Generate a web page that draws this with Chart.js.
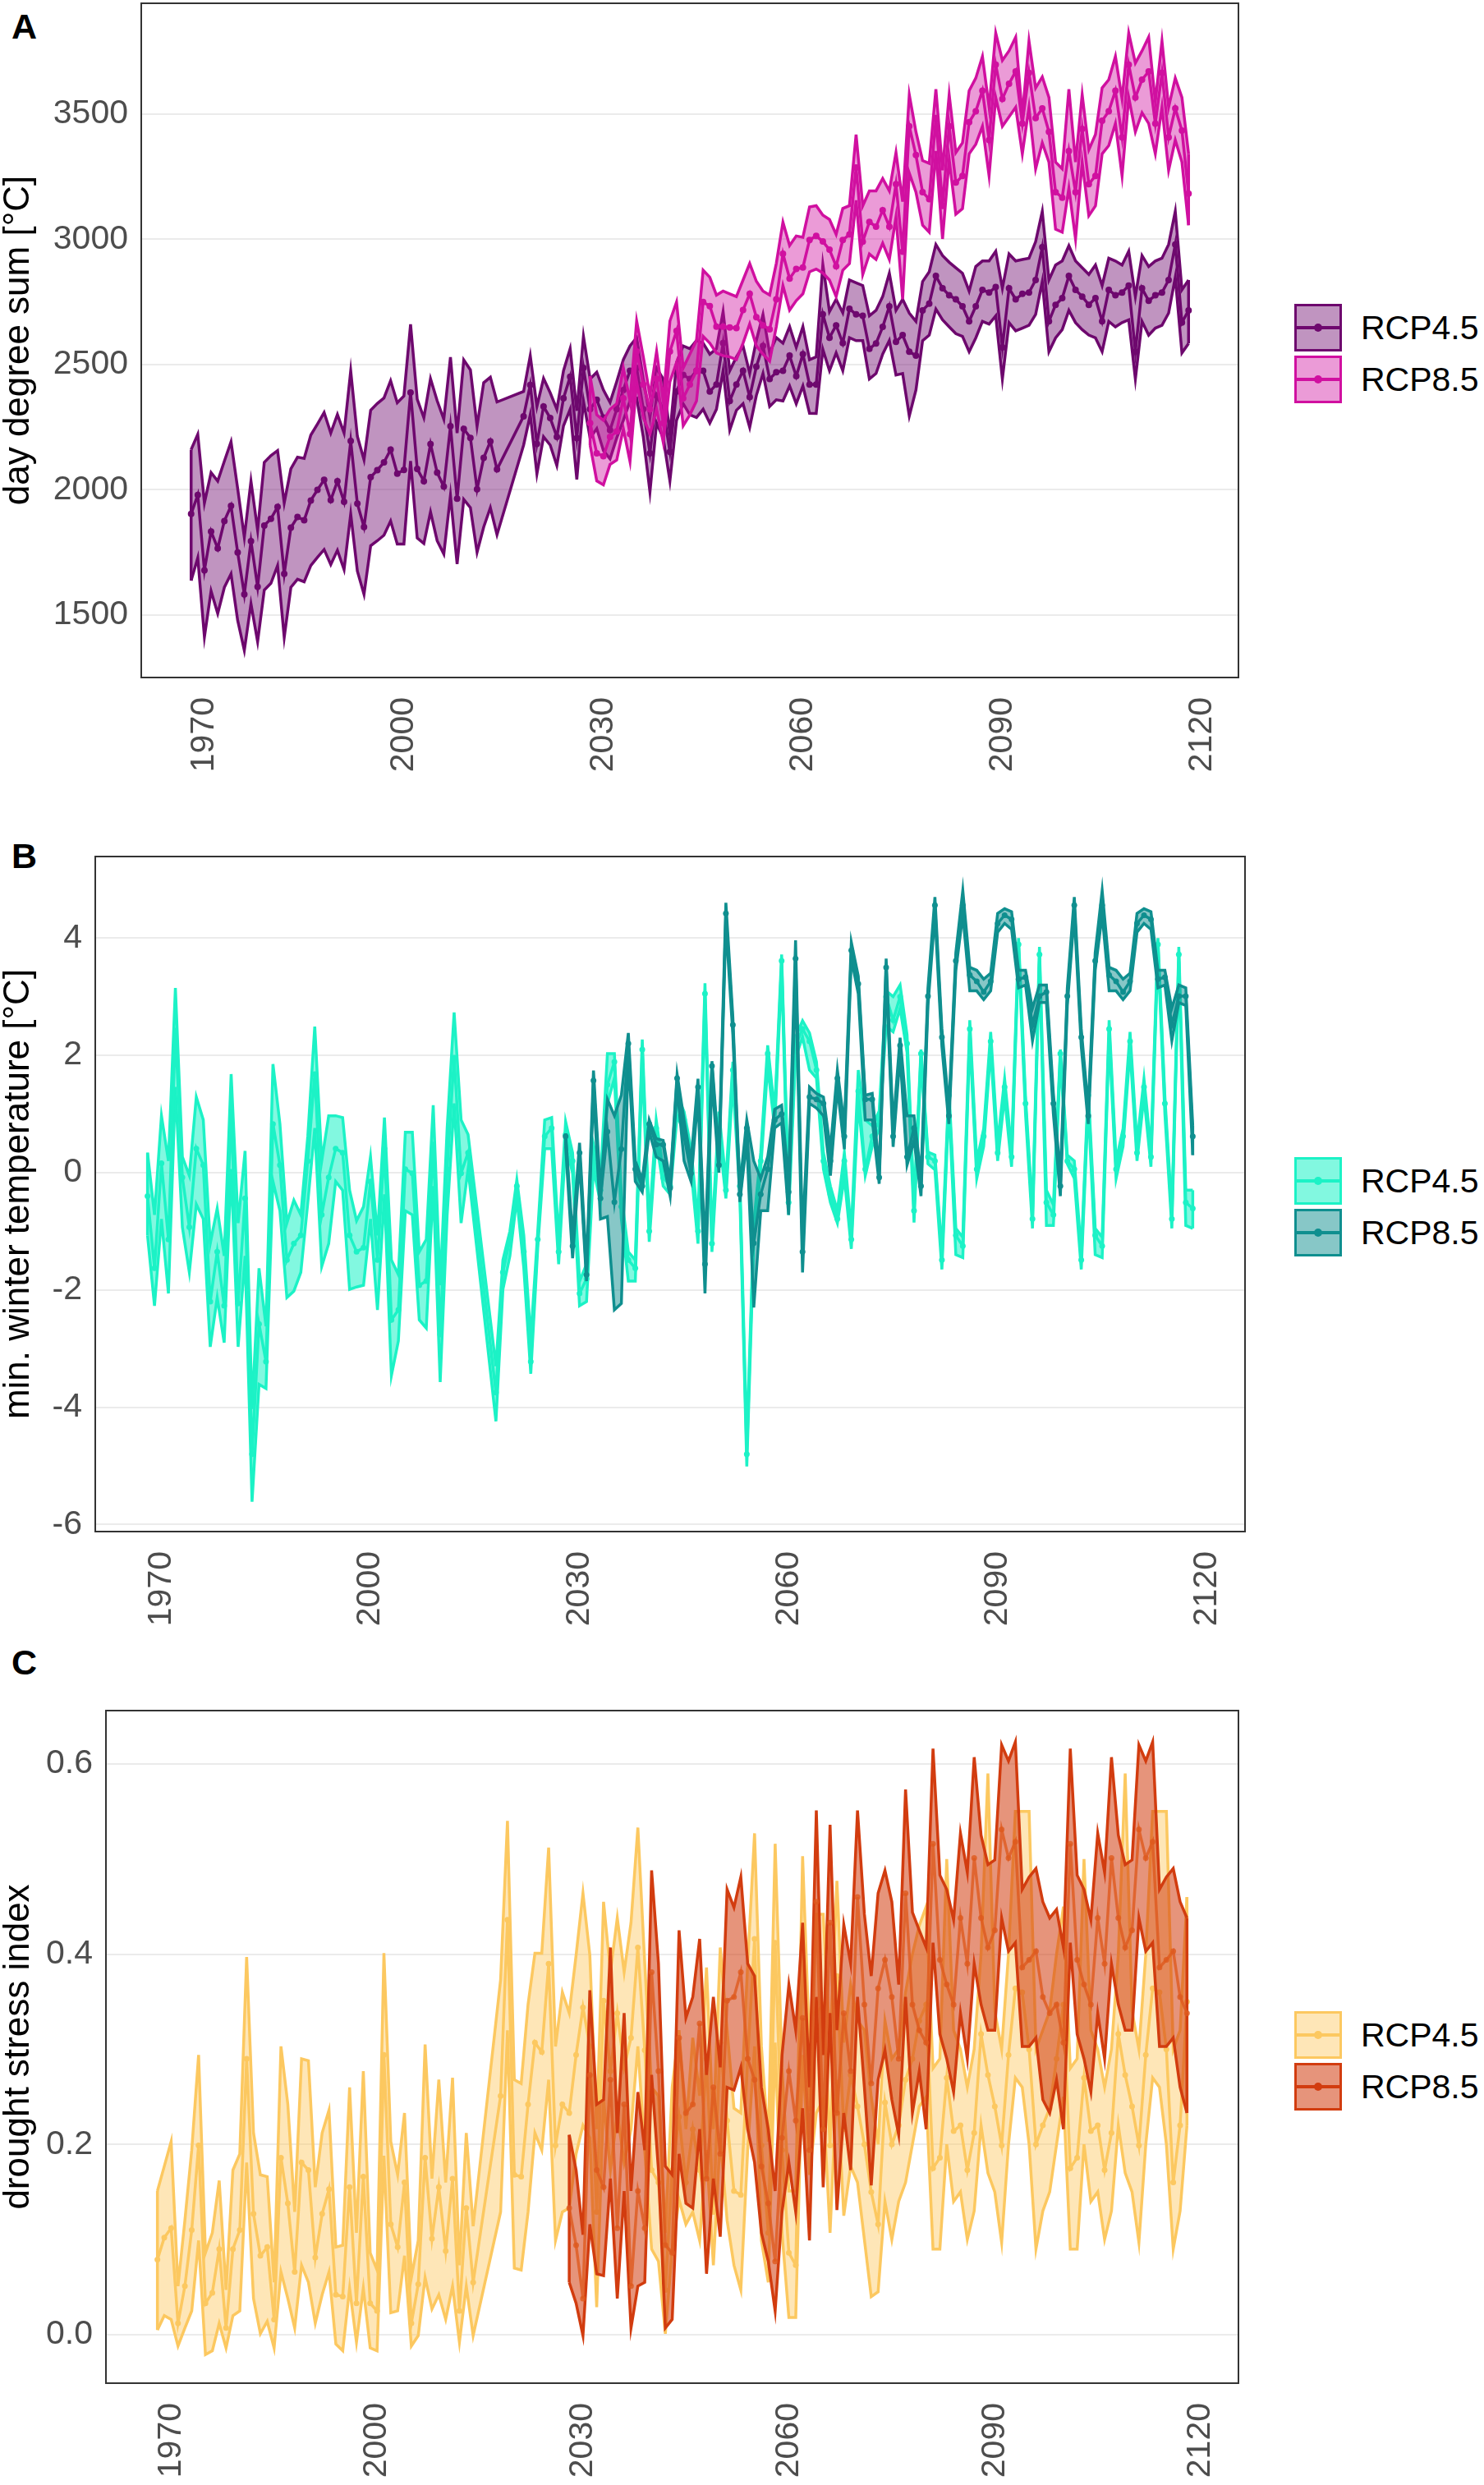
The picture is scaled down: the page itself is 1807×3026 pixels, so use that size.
<!DOCTYPE html>
<html>
<head>
<meta charset="utf-8">
<script src="https://cdn.jsdelivr.net/npm/chart.js@4.4.1/dist/chart.umd.min.js"></script>
<style>
body{margin:0;background:#fff;width:1807px;height:3026px;position:relative;overflow:hidden;font-family:"Liberation Sans",Arial,sans-serif;color:#000}
canvas{position:absolute;left:0}
.tag{position:absolute;left:14px;font-weight:bold;font-size:43px;line-height:1}
.legend{position:absolute;left:1576px}
.item{display:flex;align-items:center;height:58px;margin-bottom:5px;font-size:41px}
.key{position:relative;width:58px;height:58px;box-sizing:border-box;border:3px solid var(--c);background:var(--f);margin-right:23px}
.key i{position:absolute;left:0;right:0;top:50%;height:4px;margin-top:-2px;background:var(--c)}
.key b{position:absolute;left:50%;top:50%;width:10px;height:10px;margin:-5px 0 0 -5px;border-radius:50%;background:var(--c)}
</style>
</head>
<body>
<div class="tag" style="top:11px">A</div>
<div class="tag" style="top:1021px">B</div>
<div class="tag" style="top:2003px">C</div>

<canvas id="chartA" width="1560" height="990" style="top:0px"></canvas>
<canvas id="chartB" width="1560" height="990" style="top:1000px"></canvas>
<canvas id="chartC" width="1560" height="996" style="top:2030px"></canvas>

<div class="legend" style="top:370px">
 <div class="item"><span class="key" style="--c:rgb(110,8,110);--f:rgba(110,8,110,0.43)"><i></i><b></b></span>RCP4.5</div>
 <div class="item"><span class="key" style="--c:rgb(208,16,160);--f:rgba(208,16,160,0.42)"><i></i><b></b></span>RCP8.5</div>
</div>
<div class="legend" style="top:1409px">
 <div class="item"><span class="key" style="--c:rgb(28,242,198);--f:rgba(28,242,198,0.55)"><i></i><b></b></span>RCP4.5</div>
 <div class="item"><span class="key" style="--c:rgb(15,143,143);--f:rgba(15,143,143,0.5)"><i></i><b></b></span>RCP8.5</div>
</div>
<div class="legend" style="top:2449px">
 <div class="item"><span class="key" style="--c:rgb(252,200,96);--f:rgba(252,200,96,0.45)"><i></i><b></b></span>RCP4.5</div>
 <div class="item"><span class="key" style="--c:rgb(210,60,15);--f:rgba(210,60,15,0.55)"><i></i><b></b></span>RCP8.5</div>
</div>

<script>
// years: historical run 1968-2014, scenarios from 2018 (RCP4.5) and 2028 (RCP8.5)
const years45 = [];
for (let y = 1968; y <= 2014; y++) years45.push(y);
for (let y = 2018; y <= 2118; y++) years45.push(y);
const years85 = [];
for (let y = 2028; y <= 2118; y++) years85.push(y);

const xTicks = [1970, 2000, 2030, 2060, 2090, 2120];
const yTicksA = [1500, 2000, 2500, 3000, 3500];
const yTicksB = [-6, -4, -2, 0, 2, 4];
const yTicksC = [0, 0.2, 0.4, 0.6];

// A: day degree sum
const a45Mean = [
1903,1979,1678,1833,1766,1875,1935,1749,1582,1794,
1612,1857,1884,1931,1664,1848,1891,1878,1957,1999,
2039,1958,2034,1952,2194,1944,1851,2050,2078,2109,
2160,2064,2079,2388,2083,2034,2182,2068,2012,2253,
1964,2243,2207,2002,2127,2193,2081,
2293,2418,2183,2332,2286,2211,2365,2451,2206,2486,
2321,2359,2288,2238,2321,2398,2475,2486,2321,2145,
2376,2321,2151,2392,2458,2442,2475,2475,2392,2420,
2585,2354,2420,2475,2370,2491,2574,2442,2469,2475,
2535,2453,2541,2420,2420,2700,2607,2656,2585,2722,
2700,
2694,2562,2584,2650,2732,2590,2617,2551,2535,2716,
2743,2853,2804,2776,2760,2732,2672,2732,2798,2787,
2809,2568,2804,2760,2782,2787,2837,2968,2672,2738,
2765,2853,2798,2771,2738,2765,2672,2798,2776,2787,
2815,2551,2804,2754,2776,2787,2837,2979,2667,2716];
const a45Hi = [
2160,2221,1947,2068,2034,2114,2191,2004,1810,2034,
1838,2109,2136,2156,1947,2083,2130,2125,2218,2262,
2308,2226,2300,2226,2474,2213,2119,2317,2344,2366,
2435,2347,2374,2660,2361,2287,2443,2355,2281,2529,
2226,2518,2478,2253,2427,2449,2350,
2392,2535,2332,2444,2387,2321,2475,2563,2315,2612,
2442,2469,2398,2348,2431,2519,2574,2607,2442,2288,
2486,2442,2222,2508,2574,2563,2596,2585,2541,2563,
2711,2475,2530,2574,2464,2596,2700,2546,2607,2585,
2651,2568,2651,2519,2530,2900,2711,2760,2706,2837,
2826,
2815,2694,2716,2771,2864,2716,2760,2705,2672,2831,
2870,2979,2935,2908,2886,2864,2793,2891,2913,2913,
2952,2804,2941,2913,2919,2924,2990,3111,2837,2897,
2913,2974,2913,2886,2859,2897,2815,2924,2913,2897,
2952,2771,2935,2891,2913,2924,2979,3111,2798,2837];
const a45Lo = [
1637,1728,1412,1595,1505,1610,1664,1478,1358,1544,
1393,1599,1626,1697,1410,1610,1642,1632,1697,1730,
1761,1701,1758,1681,1903,1675,1582,1776,1796,1818,
1875,1783,1783,2114,1807,1785,1911,1796,1743,1977,
1703,1961,1928,1750,1851,1928,1820,
2178,2299,2063,2211,2178,2096,2255,2321,2041,2354,
2206,2244,2156,2123,2206,2277,2354,2365,2211,1991,
2266,2206,2035,2277,2343,2299,2288,2321,2266,2321,
2475,2238,2317,2343,2249,2376,2464,2332,2359,2354,
2414,2343,2414,2305,2304,2560,2475,2546,2475,2607,
2595,
2595,2442,2464,2541,2595,2458,2464,2294,2398,2595,
2617,2721,2678,2650,2623,2612,2551,2606,2672,2661,
2694,2442,2667,2634,2645,2656,2700,2831,2551,2606,
2639,2716,2667,2639,2617,2606,2551,2672,2650,2667,
2678,2442,2672,2617,2645,2656,2705,2848,2546,2584];
const a85Mean = [
2266,2145,2134,2211,2233,2365,2222,2552,2420,2321,
2442,2266,2552,2634,2365,2420,2475,2749,2733,2651,
2651,2648,2645,2717,2782,2689,2656,2640,2760,2942,
2843,2881,2887,2997,3013,2991,2958,2892,2997,3019,
3286,2990,3069,3050,3116,3050,3220,2950,3451,3336,
3188,3160,3484,3133,3451,3226,3253,3467,3511,3593,
3396,3697,3560,3621,3670,3462,3664,3484,3522,3429,
3188,3166,3352,3188,3440,3220,3253,3473,3511,3593,
3407,3697,3566,3637,3670,3462,3664,3407,3522,3434,
3182];
const a85Hi = [
2453,2299,2277,2321,2343,2486,2354,2673,2530,2376,
2552,2354,2673,2749,2486,2541,2596,2876,2848,2777,
2793,2782,2771,2837,2903,2832,2793,2777,2903,3068,
2975,3013,3008,3129,3134,3096,3079,3019,3123,3134,
3418,3133,3193,3193,3242,3193,3346,3150,3577,3429,
3314,3303,3599,3275,3577,3346,3385,3593,3643,3730,
3527,3823,3714,3752,3807,3495,3791,3604,3648,3566,
3308,3281,3599,3308,3577,3357,3418,3604,3637,3730,
3560,3823,3703,3752,3807,3549,3791,3527,3643,3566,
3341];
const a85Lo = [
2178,2035,2019,2101,2118,2244,2112,2431,2288,2222,
2321,2189,2431,2508,2255,2299,2354,2612,2585,2546,
2535,2530,2519,2585,2662,2574,2541,2513,2651,2815,
2717,2755,2782,2870,2881,2865,2837,2771,2876,2903,
3155,2859,2941,2919,2984,2919,3089,2760,3264,3188,
3056,3028,3352,3001,3319,3100,3122,3341,3379,3451,
3253,3566,3451,3489,3527,3341,3527,3281,3385,3308,
3040,3028,3204,3001,3308,3094,3133,3341,3374,3462,
3253,3566,3429,3505,3462,3341,3527,3275,3396,3308,
3056];

// B: min. winter temperature
const b45Mean = [
-0.40,-1.63,0.16,-1.14,2.42,-0.08,-0.93,0.41,0.13,-2.20,
-1.35,-2.27,1.04,-2.23,-0.44,-4.80,-2.58,-3.22,0.83,0.13,
-1.49,-1.21,-1.07,0.20,1.68,-0.72,-0.08,0.41,0.34,-1.07,
-1.35,-1.28,-0.15,-1.49,0.41,-2.51,-2.34,0.06,-0.01,-1.92,
-1.85,0.48,-2.76,0.06,1.96,-0.01,0.34,
-3.75,-1.70,-1.14,-0.23,-1.35,-3.22,-1.14,0.62,0.76,-1.35,
0.65,0.20,-2.06,-1.81,0.27,-0.30,1.50,1.89,-0.58,-1.49,
-1.63,2.10,-1.00,0.76,-0.08,-0.23,1.18,0.90,0.27,-1.00,
3.05,-1.21,0.90,-0.30,1.75,-0.23,-4.80,-1.00,0.20,2.03,
0.90,3.61,-0.51,2.17,2.45,2.24,1.75,0.20,-0.37,-0.79,
0.20,
-1.14,1.39,0.06,0.62,0.90,3.00,2.60,3.00,2.20,-0.65,
2.03,0.27,0.20,-1.49,1.32,-1.07,-1.25,2.45,0.06,0.62,
2.24,0.34,1.46,0.27,3.89,1.18,-0.79,3.72,-0.51,-0.72,
2.03,0.20,0.06,-1.49,1.32,-1.07,-1.25,2.45,0.06,0.62,
2.24,0.34,1.46,0.27,3.89,1.18,-0.79,3.72,-0.51,-0.61];
const b45Hi = [
0.34,-0.72,0.97,0.20,3.15,0.27,-0.05,1.29,0.90,-1.21,
-0.61,-1.42,1.68,-0.86,0.37,-4.03,-1.63,-2.62,1.85,0.83,
-0.86,-0.47,-0.72,0.62,2.49,0.20,0.97,0.97,0.94,-0.30,
-0.82,-0.58,0.27,-1.07,0.94,-1.49,-1.74,0.69,0.69,-1.35,
-1.14,1.15,-1.92,0.76,2.73,0.90,0.65,
-3.30,-1.49,-1.00,-0.12,-1.07,-2.83,-1.00,0.90,0.94,-1.14,
0.87,0.34,-1.85,-1.56,0.48,-0.08,2.03,2.03,-0.37,-1.35,
-1.49,2.27,-0.86,0.90,0.06,-0.08,1.32,1.04,0.41,-0.86,
3.23,-1.07,1.04,-0.15,1.89,-0.08,-4.59,-0.86,0.34,2.17,
1.04,3.72,-0.37,2.31,2.59,2.38,1.89,0.34,-0.23,-0.65,
0.34,
-1.00,1.75,0.90,0.80,1.05,3.10,3.00,3.20,2.35,-0.50,
2.10,0.35,0.30,-1.35,1.45,-0.95,-1.10,2.60,0.20,0.75,
2.40,0.50,1.60,0.40,4.00,1.30,-0.65,3.85,-0.30,-0.55,
2.10,0.30,0.20,-1.35,1.45,-0.95,-1.10,2.60,0.20,0.75,
2.40,0.50,1.60,0.40,4.00,1.30,-0.65,3.85,-0.30,-0.30];
const b45Lo = [
-1.07,-2.27,-0.79,-2.06,1.46,-0.93,-1.70,-0.54,-0.79,-2.97,
-2.13,-2.90,0.06,-2.97,-1.42,-5.61,-3.61,-3.68,-0.15,-0.65,
-2.13,-2.02,-1.70,-0.51,0.76,-1.60,-1.21,-0.15,-0.30,-1.99,
-1.95,-1.92,-0.79,-2.34,-0.37,-3.46,-2.87,-0.65,-0.72,-2.51,
-2.65,-0.23,-3.57,-0.72,1.18,-0.86,0.06,
-4.24,-1.99,-1.42,-0.44,-1.63,-3.43,-1.28,0.41,0.41,-1.56,
0.48,-0.01,-2.27,-2.20,0.06,-0.51,1.18,1.61,-0.79,-1.85,
-1.85,1.89,-1.18,0.55,-0.23,-0.37,0.97,0.69,0.06,-1.21,
2.87,-1.35,0.69,-0.44,1.54,-0.37,-5.01,-1.21,0.06,1.82,
0.76,3.44,-0.72,1.96,2.31,1.75,1.61,0.06,-0.51,-0.86,
-0.08,
-1.30,1.20,-0.05,0.45,0.75,2.50,2.40,2.80,2.05,-0.85,
1.90,0.15,0.05,-1.65,1.15,-1.40,-1.45,2.30,-0.10,0.45,
2.10,0.20,1.30,0.10,3.75,1.00,-0.95,3.60,-0.90,-0.90,
1.90,0.15,-0.10,-1.65,1.15,-1.40,-1.45,2.30,-0.10,0.45,
2.10,0.20,1.30,0.10,3.75,1.00,-0.95,3.60,-0.90,-0.95];
const b85Mean = [
0.62,-1.25,0.34,-1.74,1.57,-0.44,0.70,-0.50,0.40,2.20,
0.06,-0.23,0.83,0.48,0.48,-0.26,1.61,0.62,-0.01,1.46,
-1.56,1.82,0.13,4.42,2.52,-0.37,0.76,-1.20,-0.37,0.06,
0.90,1.00,-0.33,3.65,-1.35,1.29,1.25,1.18,0.20,1.61,
0.62,3.79,3.22,1.25,1.25,-0.08,3.50,0.62,2.17,0.27,
0.76,-0.23,3.01,4.56,2.31,0.97,3.61,4.56,3.37,3.26,
3.08,3.26,4.25,4.39,4.32,3.30,3.33,2.52,3.01,3.08,
1.18,-0.23,3.01,4.56,2.31,0.97,3.61,4.56,3.37,3.26,
3.08,3.26,4.25,4.39,4.32,3.30,3.33,2.52,3.01,3.01,
0.62];
const b85Hi = [
0.67,-1.10,0.51,-1.60,1.74,-0.30,1.25,0.97,1.32,2.38,
0.20,-0.12,0.90,0.58,0.55,-0.15,1.68,0.90,0.20,1.60,
-1.30,1.90,0.30,4.60,2.65,-0.25,0.90,0.20,-0.10,0.27,
1.08,1.15,-0.15,3.96,-1.10,1.46,1.35,1.29,0.40,1.75,
0.80,3.93,3.35,1.32,1.35,0.05,3.65,0.80,2.30,0.97,
0.97,-0.05,3.15,4.70,2.45,1.10,3.75,4.81,3.50,3.45,
3.30,3.40,4.42,4.50,4.45,3.45,3.45,2.80,3.20,3.20,
1.35,-0.05,3.15,4.70,2.45,1.10,3.75,4.81,3.50,3.45,
3.30,3.40,4.42,4.50,4.45,3.45,3.45,2.80,3.20,3.15,
0.80];
const b85Lo = [
0.45,-1.46,0.20,-1.85,1.40,-0.79,-0.75,-2.34,-2.23,2.00,
-0.15,-0.33,0.70,0.27,0.20,-0.40,1.45,0.20,-0.15,1.30,
-2.06,1.60,0.00,4.25,2.35,-0.50,0.55,-2.30,-0.65,-0.65,
0.76,0.85,-0.72,3.40,-1.70,1.18,1.10,0.97,-0.05,1.45,
0.40,3.65,3.05,0.90,0.90,-0.19,3.35,0.44,2.00,0.13,
0.55,-0.40,2.85,4.40,2.15,0.83,3.45,4.40,3.10,3.10,
2.95,3.10,4.10,4.25,4.15,3.15,3.20,2.25,2.90,2.90,
1.00,-0.40,2.85,4.40,2.15,0.83,3.45,4.40,3.10,3.10,
2.95,3.10,4.10,4.25,4.15,3.15,3.20,2.25,2.90,2.85,
0.30];

// C: drought stress index
const c45Mean = [
0.079,0.102,0.112,0.012,0.051,0.110,0.199,0.033,0.044,0.090,
0.007,0.090,0.110,0.290,0.127,0.083,0.092,0.016,0.186,0.138,
0.066,0.181,0.173,0.081,0.127,0.153,0.042,0.040,0.155,0.033,
0.166,0.033,0.025,0.294,0.116,0.092,0.160,0.012,0.053,0.186,
0.101,0.155,0.088,0.164,0.025,0.133,0.055,
0.251,0.436,0.168,0.166,0.242,0.307,0.297,0.390,0.199,0.242,
0.233,0.294,0.344,0.303,0.129,0.351,0.277,0.338,0.281,0.312,
0.407,0.299,0.173,0.160,0.047,0.173,0.229,0.160,0.216,0.173,
0.290,0.129,0.307,0.225,0.151,0.147,0.290,0.416,0.199,0.107,
0.412,0.194,0.086,0.073,0.399,0.238,0.338,0.347,0.199,0.377,
0.216,0.273,
0.240,0.200,0.150,0.116,0.244,0.200,0.220,0.268,0.290,0.330,
0.347,0.175,0.186,0.270,0.214,0.220,0.173,0.212,0.316,0.273,
0.240,0.199,0.294,0.364,0.360,0.300,0.200,0.220,0.238,0.290,
0.347,0.175,0.186,0.270,0.214,0.220,0.173,0.212,0.316,0.273,
0.240,0.199,0.294,0.364,0.360,0.300,0.160,0.220,0.350];
const c45Hi = [
0.151,0.177,0.203,0.051,0.120,0.194,0.294,0.086,0.107,0.162,
0.047,0.173,0.190,0.397,0.212,0.168,0.166,0.055,0.303,0.242,
0.129,0.290,0.288,0.155,0.212,0.236,0.092,0.094,0.260,0.107,
0.277,0.086,0.068,0.401,0.203,0.168,0.233,0.060,0.099,0.305,
0.164,0.268,0.160,0.270,0.073,0.212,0.114,
0.373,0.540,0.268,0.264,0.347,0.401,0.401,0.512,0.303,0.360,
0.338,0.399,0.464,0.399,0.216,0.455,0.381,0.438,0.381,0.433,
0.533,0.390,0.260,0.251,0.107,0.260,0.320,0.216,0.312,0.251,
0.386,0.216,0.407,0.320,0.238,0.233,0.390,0.527,0.303,0.203,
0.516,0.281,0.151,0.151,0.503,0.303,0.442,0.442,0.303,0.477,
0.307,0.368,
0.330,0.320,0.250,0.200,0.330,0.290,0.300,0.360,0.400,0.430,
0.450,0.280,0.290,0.500,0.320,0.300,0.260,0.300,0.400,0.590,
0.340,0.300,0.400,0.550,0.550,0.550,0.300,0.320,0.340,0.400,
0.450,0.280,0.290,0.500,0.320,0.300,0.260,0.300,0.400,0.590,
0.340,0.300,0.400,0.550,0.550,0.550,0.300,0.320,0.460];
const c45Lo = [
0.005,0.020,0.016,-0.012,0.007,0.025,0.099,-0.021,-0.017,0.012,
-0.014,0.020,0.025,0.181,0.038,0.001,0.014,-0.014,0.066,0.038,
0.007,0.073,0.055,0.012,0.042,0.066,-0.010,-0.017,0.049,-0.008,
0.049,-0.014,-0.017,0.188,0.023,0.025,0.083,-0.012,-0.001,0.060,
0.027,0.042,0.016,0.051,-0.008,0.051,-0.001,
0.129,0.320,0.070,0.068,0.129,0.212,0.194,0.268,0.099,0.129,
0.133,0.190,0.220,0.207,0.029,0.247,0.173,0.233,0.181,0.216,
0.303,0.194,0.090,0.077,0.001,0.090,0.142,0.116,0.129,0.099,
0.194,0.073,0.207,0.120,0.073,0.047,0.194,0.303,0.099,0.055,
0.307,0.107,0.018,0.018,0.294,0.168,0.233,0.247,0.107,0.268,
0.125,0.177,
0.160,0.100,0.040,0.045,0.140,0.100,0.140,0.160,0.200,0.240,
0.250,0.090,0.090,0.200,0.140,0.150,0.100,0.130,0.220,0.170,
0.150,0.097,0.200,0.270,0.260,0.200,0.090,0.130,0.150,0.200,
0.250,0.090,0.090,0.200,0.140,0.150,0.100,0.130,0.220,0.170,
0.150,0.097,0.200,0.270,0.260,0.200,0.090,0.130,0.220];
const c85Mean = [
0.133,0.094,0.038,0.273,0.173,0.155,0.268,0.112,0.242,0.051,
0.151,0.112,0.381,0.277,0.094,0.086,0.312,0.233,0.242,0.327,
0.164,0.260,0.190,0.351,0.355,0.381,0.290,0.268,0.177,0.138,
0.077,0.207,0.277,0.225,0.333,0.194,0.455,0.216,0.433,0.233,
0.338,0.277,
0.460,0.347,0.264,0.364,0.394,0.355,0.290,0.464,0.347,0.320,
0.307,0.516,0.394,0.368,0.347,0.438,0.390,0.501,0.438,0.407,
0.425,0.531,0.501,0.518,0.386,0.394,0.403,0.355,0.338,0.347,
0.307,0.516,0.394,0.368,0.347,0.438,0.390,0.501,0.438,0.407,
0.425,0.531,0.501,0.518,0.386,0.394,0.403,0.355,0.338];
const c85Hi = [
0.210,0.173,0.105,0.362,0.242,0.247,0.407,0.212,0.338,0.151,
0.255,0.194,0.488,0.390,0.177,0.168,0.425,0.333,0.355,0.416,
0.273,0.355,0.281,0.468,0.449,0.481,0.390,0.377,0.260,0.216,
0.151,0.294,0.368,0.320,0.433,0.260,0.551,0.294,0.536,0.320,
0.431,0.390,
0.551,0.442,0.377,0.464,0.488,0.455,0.368,0.573,0.444,0.425,
0.407,0.616,0.483,0.468,0.436,0.527,0.486,0.607,0.525,0.494,
0.499,0.620,0.603,0.623,0.468,0.481,0.490,0.455,0.438,0.447,
0.407,0.616,0.483,0.468,0.436,0.527,0.486,0.607,0.525,0.494,
0.499,0.620,0.603,0.623,0.468,0.481,0.490,0.455,0.438];
const c85Lo = [
0.055,0.033,-0.001,0.116,0.064,0.062,0.164,0.038,0.151,0.007,
0.051,0.055,0.273,0.173,0.007,0.016,0.190,0.138,0.133,0.216,
0.064,0.164,0.103,0.260,0.257,0.281,0.216,0.181,0.107,0.077,
0.025,0.129,0.181,0.129,0.238,0.099,0.355,0.155,0.338,0.131,
0.233,0.173,
0.355,0.260,0.157,0.268,0.299,0.247,0.210,0.355,0.233,0.277,
0.216,0.412,0.316,0.290,0.255,0.338,0.290,0.390,0.347,0.320,
0.320,0.438,0.403,0.412,0.303,0.303,0.312,0.247,0.233,0.268,
0.216,0.412,0.316,0.290,0.255,0.338,0.290,0.390,0.347,0.320,
0.320,0.438,0.403,0.412,0.303,0.303,0.312,0.260,0.233];

const FONT = '"Liberation Sans", Arial, sans-serif';
Chart.defaults.font.family = FONT;

function pts(xs, ys){ return xs.map((x,i)=>({x:x, y:ys[i]})); }

// lower edge, upper edge (filled down to lower), mean with points, closing ends of the ribbon
function series(xs, lo, hi, mean, col, fill, meanCol, r, base){
  const n = xs.length;
  const ln = {borderColor:col, borderWidth:3.5, pointRadius:0, fill:false};
  return [
    Object.assign({data:pts(xs,lo), order:base+2}, ln),
    Object.assign({}, ln, {data:pts(xs,hi), fill:'-1', backgroundColor:fill, order:base+1}),
    {data:pts(xs,mean), borderColor:meanCol, borderWidth:3.5, pointRadius:r, pointBackgroundColor:meanCol,
     pointBorderWidth:0, fill:false, order:base},
    Object.assign({data:[{x:xs[0],y:lo[0]},{x:xs[0],y:hi[0]}], order:base}, ln),
    Object.assign({data:[{x:xs[n-1],y:lo[n-1]},{x:xs[n-1],y:hi[n-1]}], order:base}, ln)
  ];
}

const framePlugin = {
  id:'frame',
  afterDatasetsDraw(chart){
    const {ctx, chartArea:a} = chart;
    ctx.save();
    ctx.strokeStyle = '#333'; ctx.lineWidth = 2;
    ctx.strokeRect(a.left, a.top, a.right-a.left, a.bottom-a.top);
    ctx.restore();
  }
};

function makeChart(id, p){
  const ds = series(years45, p.lo45, p.hi45, p.mean45, p.c45, p.f45, p.m45, p.r, 6)
    .concat(series(years85, p.lo85, p.hi85, p.mean85, p.c85, p.f85, p.m85, p.r, 0));
  new Chart(document.getElementById(id), {
    type:'line',
    data:{datasets:ds},
    plugins:[framePlugin],
    options:{
      responsive:false, animation:false, devicePixelRatio:1,
      layout:{padding:{left:0, top:p.padTop, right:p.padRight, bottom:0}},
      plugins:{legend:{display:false}, tooltip:{enabled:false}},
      elements:{line:{tension:0}},
      scales:{
        x:{type:'linear', min:1960.5, max:2125.5,
           afterBuildTicks:s=>{ s.ticks = xTicks.map(v=>({value:v})); },
           afterFit:s=>{ s.height = p.xAxisH; s.paddingLeft = 0; s.paddingRight = 0; },
           grid:{display:false, drawTicks:false}, border:{display:false},
           ticks:{autoSkip:false, minRotation:90, maxRotation:90, padding:24, color:'#4d4d4d',
                  font:{size:41}, callback:v=>String(v)}},
        y:{type:'linear', min:p.yMin, max:p.yMax,
           afterBuildTicks:s=>{ s.ticks = p.yTicks.map(v=>({value:v})); },
           afterFit:s=>{ s.width = p.left; s.paddingTop = 0; s.paddingBottom = 0; },
           grid:{color:'#ebebeb', lineWidth:2, drawTicks:false}, border:{display:false},
           ticks:{padding:16, color:'#4d4d4d', font:{size:41}, callback:p.fmt},
           title:{display:true, text:p.title, color:'#000', font:{size:44, lineHeight:1}, padding:{top:1, bottom:0}}}
      }
    }
  });
}

makeChart('chartA', {
  mean45:a45Mean, hi45:a45Hi, lo45:a45Lo, mean85:a85Mean, hi85:a85Hi, lo85:a85Lo,
  c45:'rgb(110,8,110)', f45:'rgba(110,8,110,0.43)', m45:'rgb(110,8,110)',
  c85:'rgb(208,16,160)', f85:'rgba(208,16,160,0.42)', m85:'rgb(208,16,160)', r:4,
  padTop:4, padRight:52, xAxisH:165, left:172, yMin:1250, yMax:3942, yTicks:yTicksA,
  fmt:v=>String(v), title:'day degree sum [°C]'
});
makeChart('chartB', {
  mean45:b45Mean, hi45:b45Hi, lo45:b45Lo, mean85:b85Mean, hi85:b85Hi, lo85:b85Lo,
  c45:'rgb(28,242,198)', f45:'rgba(28,242,198,0.55)', m45:'rgb(28,242,198)',
  c85:'rgb(15,143,143)', f85:'rgba(15,143,143,0.5)', m85:'rgb(15,143,143)', r:3.5,
  padTop:43, padRight:44, xAxisH:125, left:116, yMin:-6.12, yMax:5.39, yTicks:yTicksB,
  fmt:v=>String(v), title:'min. winter temperature [°C]'
});
makeChart('chartC', {
  mean45:c45Mean, hi45:c45Hi, lo45:c45Lo, mean85:c85Mean, hi85:c85Hi, lo85:c85Lo,
  c45:'rgb(252,200,96)', f45:'rgba(252,200,96,0.45)', m45:'rgb(252,200,96)',
  c85:'rgb(210,60,15)', f85:'rgba(210,60,15,0.55)', m85:'rgba(222,90,30,0.8)', r:3.5,
  padTop:53, padRight:52, xAxisH:124, left:129, yMin:-0.051, yMax:0.656, yTicks:yTicksC,
  fmt:v=>v.toFixed(1), title:'drought stress index'
});
</script>
</body>
</html>
